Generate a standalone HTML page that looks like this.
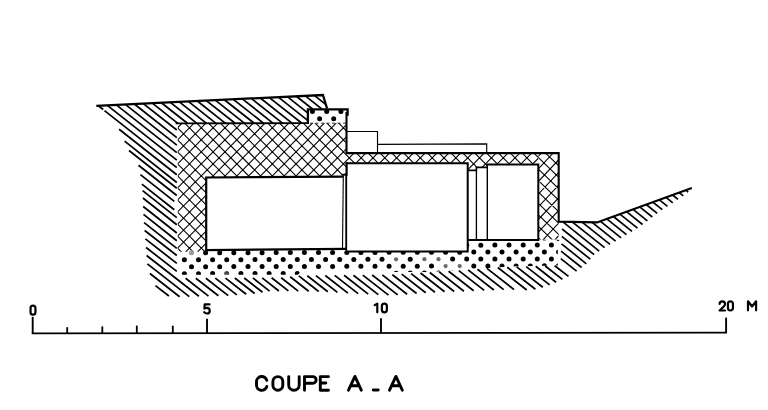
<!DOCTYPE html>
<html><head><meta charset="utf-8"><title>Coupe A-A</title>
<style>html,body{margin:0;padding:0;background:#fff;}body{width:768px;height:410px;overflow:hidden;font-family:"Liberation Sans",sans-serif;}svg{display:block;}</style>
</head><body>
<svg width="768" height="410" viewBox="0 0 768 410">
<defs>
<clipPath id="cc"><polygon points="177.8,123.3 346.5,123.3 346.5,153.0 538.3,153.0 538.3,164.5 538.2,164.3 487.2,164.3 487.2,167.4 476.4,167.4 476.4,170.4 467.8,170.4 467.8,163.3 346.5,163.3 346.5,175.8 206.1,177.2 206.1,251.8 177.8,251.8"/></clipPath>
<clipPath id="ccr"><polygon points="538.3,153.0 558.7,153.0 558.7,239.6 538.3,239.6"/></clipPath>
<clipPath id="cd"><polygon points="180.0,250.0 206.1,249.5 344.5,249.5 344.5,251.2 467.6,251.2 467.6,239.8 557.8,239.8 557.8,265.5 510.0,266.5 470.0,269.5 430.0,272.0 392.0,272.0 388.0,270.4 302.0,270.4 298.0,274.8 180.0,274.8"/></clipPath>
</defs>
<rect width="768" height="410" fill="#fff"/>
<path d="M98.3 105.7L103.2 109.5M104.5 110.6L176.8 167.7M107.3 105.3L176.8 160.2M116.3 104.8L176.8 152.6M125.3 104.4L176.8 145.1M134.3 104.0L176.8 137.6M143.3 103.6L176.8 130.0M152.3 103.1L177.8 123.3M161.3 102.7L187.4 123.3M170.3 102.3L196.9 123.3M179.3 101.8L206.5 123.3M188.3 101.4L216.0 123.3M197.3 101.0L225.5 123.3M206.3 100.6L235.1 123.3M215.3 100.1L244.6 123.3M224.3 99.7L254.2 123.3M233.3 99.3L263.7 123.3M242.3 98.8L273.2 123.3M251.3 98.4L282.8 123.3M260.3 98.0L292.3 123.3M269.3 97.6L301.9 123.3M278.3 97.1L308.0 120.6M287.3 96.7L308.0 113.1M296.3 96.3L312.8 109.3M305.3 95.8L322.3 109.3M314.3 95.4L325.3 104.1M119.1 129.3L176.8 174.8M124.6 141.2L176.8 182.5" stroke="#000" stroke-width="1.72" fill="none"/>
<path d="M129.0 150.5L176.8 188.2M138.5 165.3L176.8 195.5M140.4 174.6L174.3 201.4M141.9 184.1L174.3 209.7M142.6 190.6L176.8 217.6M142.9 198.0L176.8 224.8M143.2 206.5L176.8 233.0M143.5 214.4L176.8 240.7M144.1 222.6L176.8 248.4M146.1 247.5L176.8 271.4M185.6 278.3L208.5 296.1M145.4 238.9L176.8 263.4M195.8 278.2L218.4 295.8M144.7 230.5L176.8 255.5M205.9 278.2L228.2 295.6M215.3 278.1L236.8 294.9M225.5 278.1L246.2 294.2M234.8 278.0L254.7 293.5M244.2 278.0L262.5 292.3M252.8 277.9L269.6 291.1M262.2 277.9L278.9 291.0M271.6 277.8L288.4 290.9M281.2 277.8L298.2 291.1M290.2 276.8L308.7 291.3M298.8 275.9L318.7 291.5M307.3 275.7L327.8 291.7M315.9 275.6L337.4 292.4M325.3 275.5L347.9 293.1M334.7 275.4L358.1 293.6M344.1 275.3L368.2 294.1M353.4 275.2L378.3 294.6M362.8 275.1L388.5 295.1M372.2 275.0L397.7 294.9M382.3 274.9L407.1 294.2M392.4 274.7L416.6 293.5M401.7 274.1L425.7 292.8M411.1 273.6L434.9 292.2M420.5 273.0L444.6 291.8M429.8 272.5L454.2 291.5M439.2 271.9L463.9 291.2M448.6 271.2L473.7 290.8M458.8 270.6L484.2 290.4M468.1 269.9L493.8 290.0M477.5 269.2L503.7 289.6M486.9 268.4L514.1 289.6M497.8 267.5L526.7 290.0M507.2 267.2L535.4 289.2M516.7 266.9L542.8 287.3M526.2 266.6L549.7 284.9M535.7 266.3L556.1 282.2M545.2 266.0L562.4 279.4M554.7 265.7L568.5 276.4M146.6 255.5L198.9 296.3M147.4 263.9L189.3 296.6M149.9 273.5L179.6 296.7M155.4 285.6L168.9 296.0" stroke="#000" stroke-width="1.75" fill="none"/>
<path d="M685.7 190.2L688.2 192.2M679.1 192.6L683.3 195.9M672.6 195.0L678.0 199.4M666.0 197.4L672.8 202.8M659.4 199.8L667.5 206.3M652.8 202.1L662.3 209.7M646.2 204.5L657.2 213.3M639.7 206.9L652.3 217.0M633.1 209.3L647.4 220.8M626.5 211.7L642.5 224.5M619.9 214.1L637.5 228.1M613.4 216.5L632.0 231.4M606.8 218.9L626.5 234.7M600.2 221.2L621.1 237.9M592.1 222.4L615.6 241.2M582.4 222.3L610.0 244.4M572.8 222.3L604.6 247.7M563.2 222.2L599.2 251.1M562.1 229.0L594.1 254.6M561.8 236.4L590.3 259.2M561.5 243.8L586.4 263.8M561.1 251.2L581.6 267.5M560.8 258.6L576.6 271.2" stroke="#000" stroke-width="1.7" fill="none"/>
<g clip-path="url(#cc)"><path d="M170 -577.6L565 -176.3M170 -538.1L565 -939.5M170 -565.6L565 -164.3M170 -526.1L565 -927.4M170 -553.6L565 -152.3M170 -514.1L565 -915.4M170 -541.6L565 -140.2M170 -502.1L565 -903.4M170 -529.5L565 -128.2M170 -490.0L565 -891.3M170 -517.5L565 -116.2M170 -478.0L565 -879.3M170 -505.5L565 -104.2M170 -466.0L565 -867.3M170 -493.4L565 -92.1M170 -453.9L565 -855.3M170 -481.4L565 -80.1M170 -441.9L565 -843.2M170 -469.4L565 -68.1M170 -429.9L565 -831.2M170 -457.4L565 -56.0M170 -417.9L565 -819.2M170 -445.3L565 -44.0M170 -405.8L565 -807.1M170 -433.3L565 -32.0M170 -393.8L565 -795.1M170 -421.3L565 -19.9M170 -381.8L565 -783.1M170 -409.2L565 -7.9M170 -369.7L565 -771.0M170 -397.2L565 4.1M170 -357.7L565 -759.0M170 -385.2L565 16.1M170 -345.7L565 -747.0M170 -373.1L565 28.2M170 -333.6L565 -735.0M170 -361.1L565 40.2M170 -321.6L565 -722.9M170 -349.1L565 52.2M170 -309.6L565 -710.9M170 -337.0L565 64.3M170 -297.5L565 -698.9M170 -325.0L565 76.3M170 -285.5L565 -686.8M170 -313.0L565 88.3M170 -273.5L565 -674.8M170 -301.0L565 100.4M170 -261.5L565 -662.8M170 -288.9L565 112.4M170 -249.4L565 -650.8M170 -276.9L565 124.4M170 -237.4L565 -638.7M170 -264.9L565 136.4M170 -225.4L565 -626.7M170 -252.8L565 148.5M170 -213.3L565 -614.7M170 -240.8L565 160.5M170 -201.3L565 -602.6M170 -228.8L565 172.5M170 -189.3L565 -590.6M170 -216.7L565 184.6M170 -177.2L565 -578.6M170 -204.7L565 196.6M170 -165.2L565 -566.5M170 -192.7L565 208.6M170 -153.2L565 -554.5M170 -180.7L565 220.7M170 -141.2L565 -542.5M170 -168.6L565 232.7M170 -129.1L565 -530.4M170 -156.6L565 244.7M170 -117.1L565 -518.4M170 -144.6L565 256.8M170 -105.1L565 -506.4M170 -132.5L565 268.8M170 -93.0L565 -494.4M170 -120.5L565 280.8M170 -81.0L565 -482.3M170 -108.5L565 292.8M170 -69.0L565 -470.3M170 -96.5L565 304.9M170 -56.9L565 -458.3M170 -84.4L565 316.9M170 -44.9L565 -446.2M170 -72.4L565 328.9M170 -32.9L565 -434.2M170 -60.4L565 341.0M170 -20.9L565 -422.2M170 -48.3L565 353.0M170 -8.8L565 -410.1M170 -36.3L565 365.0M170 3.2L565 -398.1M170 -24.3L565 377.0M170 15.2L565 -386.1M170 -12.2L565 389.1M170 27.3L565 -374.1M170 -0.2L565 401.1M170 39.3L565 -362.0M170 11.8L565 413.1M170 51.3L565 -350.0M170 23.8L565 425.2M170 63.3L565 -338.0M170 35.9L565 437.2M170 75.4L565 -325.9M170 47.9L565 449.2M170 87.4L565 -313.9M170 59.9L565 461.3M170 99.4L565 -301.9M170 72.0L565 473.3M170 111.5L565 -289.8M170 84.0L565 485.3M170 123.5L565 -277.8M170 96.0L565 497.3M170 135.5L565 -265.8M170 108.1L565 509.4M170 147.6L565 -253.8M170 120.1L565 521.4M170 159.6L565 -241.7M170 132.1L565 533.4M170 171.6L565 -229.7M170 144.2L565 545.5M170 183.7L565 -217.7M170 156.2L565 557.5M170 195.7L565 -205.6M170 168.2L565 569.5M170 207.7L565 -193.6M170 180.2L565 581.6M170 219.7L565 -181.6M170 192.3L565 593.6M170 231.8L565 -169.5M170 204.3L565 605.6M170 243.8L565 -157.5M170 216.3L565 617.6M170 255.8L565 -145.5M170 228.4L565 629.7M170 267.9L565 -133.5M170 240.4L565 641.7M170 279.9L565 -121.4M170 252.4L565 653.7M170 291.9L565 -109.4M170 264.4L565 665.8M170 304.0L565 -97.4M170 276.5L565 677.8M170 316.0L565 -85.3M170 288.5L565 689.8M170 328.0L565 -73.3M170 300.5L565 701.9M170 340.0L565 -61.3M170 312.6L565 713.9M170 352.1L565 -49.2M170 324.6L565 725.9M170 364.1L565 -37.2M170 336.6L565 737.9M170 376.1L565 -25.2M170 348.7L565 750.0M170 388.2L565 -13.2M170 360.7L565 762.0M170 400.2L565 -1.1M170 372.7L565 774.0M170 412.2L565 10.9M170 384.8L565 786.1M170 424.2L565 22.9M170 396.8L565 798.1M170 436.3L565 35.0M170 408.8L565 810.1M170 448.3L565 47.0M170 420.8L565 822.2M170 460.3L565 59.0M170 432.9L565 834.2M170 472.4L565 71.0M170 444.9L565 846.2M170 484.4L565 83.1M170 456.9L565 858.2M170 496.4L565 95.1M170 469.0L565 870.3M170 508.5L565 107.1M170 481.0L565 882.3M170 520.5L565 119.2M170 493.0L565 894.3M170 532.5L565 131.2M170 505.0L565 906.4M170 544.5L565 143.2M170 517.1L565 918.4M170 556.6L565 155.3M170 529.1L565 930.4M170 568.6L565 167.3M170 541.1L565 942.5M170 580.6L565 179.3M170 553.2L565 954.5M170 592.7L565 191.4M170 565.2L565 966.5M170 604.7L565 203.4M170 577.2L565 978.5M170 616.7L565 215.4M170 589.3L565 990.6M170 628.8L565 227.4M170 601.3L565 1002.6M170 640.8L565 239.5M170 613.3L565 1014.6M170 652.8L565 251.5M170 625.4L565 1026.7M170 664.8L565 263.5M170 637.4L565 1038.7M170 676.9L565 275.6M170 649.4L565 1050.7M170 688.9L565 287.6M170 661.4L565 1062.8M170 700.9L565 299.6M170 673.5L565 1074.8M170 713.0L565 311.6M170 685.5L565 1086.8M170 725.0L565 323.7M170 697.5L565 1098.8M170 737.0L565 335.7M170 709.6L565 1110.9M170 749.1L565 347.7M170 721.6L565 1122.9M170 761.1L565 359.8M170 733.6L565 1134.9M170 773.1L565 371.8M170 745.6L565 1147.0M170 785.1L565 383.8M170 757.7L565 1159.0M170 797.2L565 395.9M170 769.7L565 1171.0M170 809.2L565 407.9M170 781.7L565 1183.1M170 821.2L565 419.9M170 793.8L565 1195.1M170 833.3L565 432.0M170 805.8L565 1207.1M170 845.3L565 444.0M170 817.8L565 1219.1M170 857.3L565 456.0M170 829.9L565 1231.2M170 869.4L565 468.0M170 841.9L565 1243.2M170 881.4L565 480.1M170 853.9L565 1255.2M170 893.4L565 492.1" stroke="#000" stroke-width="1.08" fill="none"/></g>
<g clip-path="url(#ccr)"><path d="M530 12.1L565 46.0M530 38.4L565 1.0M530 23.6L565 57.4M530 51.1L565 13.6M530 35.0L565 68.9M530 63.7L565 26.3M530 46.5L565 80.3M530 76.4L565 39.0M530 57.9L565 91.8M530 89.1L565 51.6M530 69.4L565 103.2M530 101.7L565 64.3M530 80.8L565 114.7M530 114.4L565 77.0M530 92.3L565 126.1M530 127.1L565 89.6M530 103.7L565 137.6M530 139.8L565 102.3M530 115.2L565 149.0M530 152.4L565 115.0M530 126.6L565 160.5M530 165.1L565 127.6M530 138.1L565 171.9M530 177.8L565 140.3M530 149.5L565 183.4M530 190.4L565 153.0M530 161.0L565 194.8M530 203.1L565 165.6M530 172.4L565 206.3M530 215.8L565 178.3M530 183.9L565 217.7M530 228.4L565 191.0M530 195.3L565 229.2M530 241.1L565 203.7M530 206.8L565 240.6M530 253.8L565 216.3M530 218.2L565 252.1M530 266.4L565 229.0M530 229.7L565 263.5M530 279.1L565 241.7M530 241.1L565 275.0M530 291.8L565 254.3M530 252.6L565 286.4M530 304.4L565 267.0M530 264.0L565 297.9M530 317.1L565 279.7M530 275.5L565 309.3M530 329.8L565 292.3" stroke="#000" stroke-width="1.08" fill="none"/></g>
<g clip-path="url(#cd)" fill="#000"><circle cx="163.3" cy="239.0" r="2.5"/><circle cx="177.4" cy="239.0" r="2.5"/><circle cx="191.5" cy="238.9" r="2.5"/><circle cx="205.6" cy="238.9" r="2.5"/><circle cx="219.7" cy="238.9" r="2.5"/><circle cx="233.8" cy="238.8" r="2.5"/><circle cx="248.0" cy="238.8" r="2.5"/><circle cx="262.1" cy="238.8" r="2.5"/><circle cx="276.2" cy="238.7" r="2.5"/><circle cx="290.3" cy="238.7" r="2.5"/><circle cx="304.4" cy="238.6" r="2.5"/><circle cx="318.5" cy="238.6" r="2.5"/><circle cx="332.6" cy="238.6" r="2.5"/><circle cx="346.8" cy="238.5" r="2.5"/><circle cx="360.9" cy="238.5" r="2.5"/><circle cx="375.0" cy="238.5" r="2.5"/><circle cx="389.1" cy="238.4" r="2.5"/><circle cx="403.2" cy="238.4" r="2.5"/><circle cx="417.3" cy="238.4" r="2.5"/><circle cx="431.5" cy="238.3" r="2.5"/><circle cx="445.6" cy="238.3" r="2.5"/><circle cx="459.7" cy="238.3" r="2.5"/><circle cx="473.8" cy="238.2" r="2.5"/><circle cx="487.9" cy="238.2" r="2.5"/><circle cx="502.0" cy="238.2" r="2.5"/><circle cx="516.1" cy="238.1" r="2.5"/><circle cx="530.3" cy="238.1" r="2.5"/><circle cx="544.4" cy="238.0" r="2.5"/><circle cx="558.5" cy="238.0" r="2.5"/><circle cx="572.6" cy="238.0" r="2.5"/><circle cx="586.7" cy="237.9" r="2.5"/><circle cx="600.8" cy="237.9" r="2.5"/><circle cx="615.0" cy="237.9" r="2.5"/><circle cx="629.1" cy="237.8" r="2.5"/><circle cx="156.2" cy="246.0" r="2.5"/><circle cx="170.3" cy="245.9" r="2.5"/><circle cx="184.4" cy="245.9" r="2.5"/><circle cx="198.5" cy="245.9" r="2.5"/><circle cx="212.6" cy="245.8" r="2.5"/><circle cx="226.7" cy="245.8" r="2.5"/><circle cx="240.9" cy="245.8" r="2.5"/><circle cx="255.0" cy="245.7" r="2.5"/><circle cx="269.1" cy="245.7" r="2.5"/><circle cx="283.2" cy="245.7" r="2.5"/><circle cx="297.3" cy="245.6" r="2.5"/><circle cx="311.4" cy="245.6" r="2.5"/><circle cx="325.6" cy="245.5" r="2.5"/><circle cx="339.7" cy="245.5" r="2.5"/><circle cx="353.8" cy="245.5" r="2.5"/><circle cx="367.9" cy="245.4" r="2.5"/><circle cx="382.0" cy="245.4" r="2.5"/><circle cx="396.1" cy="245.4" r="2.5"/><circle cx="410.2" cy="245.3" r="2.5"/><circle cx="424.4" cy="245.3" r="2.5"/><circle cx="438.5" cy="245.3" r="2.5"/><circle cx="452.6" cy="245.2" r="2.5"/><circle cx="466.7" cy="245.2" r="2.5"/><circle cx="480.8" cy="245.2" r="2.5"/><circle cx="494.9" cy="245.1" r="2.5"/><circle cx="509.0" cy="245.1" r="2.5"/><circle cx="523.2" cy="245.1" r="2.5"/><circle cx="537.3" cy="245.0" r="2.5"/><circle cx="551.4" cy="245.0" r="2.5"/><circle cx="565.5" cy="244.9" r="2.5"/><circle cx="579.6" cy="244.9" r="2.5"/><circle cx="593.7" cy="244.9" r="2.5"/><circle cx="607.9" cy="244.8" r="2.5"/><circle cx="622.0" cy="244.8" r="2.5"/><circle cx="163.3" cy="252.9" r="2.5"/><circle cx="177.4" cy="252.9" r="2.5"/><circle cx="191.5" cy="252.8" r="2.5" fill="#999"/><circle cx="205.6" cy="252.8" r="2.5"/><circle cx="219.7" cy="252.8" r="2.5"/><circle cx="233.8" cy="252.7" r="2.5"/><circle cx="248.0" cy="252.7" r="2.5"/><circle cx="262.1" cy="252.7" r="2.5"/><circle cx="276.2" cy="252.6" r="2.5"/><circle cx="290.3" cy="252.6" r="2.5"/><circle cx="304.4" cy="252.5" r="2.5"/><circle cx="318.5" cy="252.5" r="2.5"/><circle cx="332.6" cy="252.5" r="2.5"/><circle cx="346.8" cy="252.4" r="2.5"/><circle cx="360.9" cy="252.4" r="2.5"/><circle cx="375.0" cy="252.4" r="2.5"/><circle cx="389.1" cy="252.3" r="2.5"/><circle cx="403.2" cy="252.3" r="2.5"/><circle cx="417.3" cy="252.3" r="2.5"/><circle cx="431.5" cy="252.2" r="2.5"/><circle cx="445.6" cy="252.2" r="2.5"/><circle cx="459.7" cy="252.2" r="2.5"/><circle cx="473.8" cy="252.1" r="2.5"/><circle cx="487.9" cy="252.1" r="2.5"/><circle cx="502.0" cy="252.1" r="2.5"/><circle cx="516.1" cy="252.0" r="2.5"/><circle cx="530.3" cy="252.0" r="2.5"/><circle cx="544.4" cy="251.9" r="2.5"/><circle cx="558.5" cy="251.9" r="2.5"/><circle cx="572.6" cy="251.9" r="2.5"/><circle cx="586.7" cy="251.8" r="2.5"/><circle cx="600.8" cy="251.8" r="2.5"/><circle cx="615.0" cy="251.8" r="2.5"/><circle cx="629.1" cy="251.7" r="2.5"/><circle cx="156.2" cy="259.9" r="2.5"/><circle cx="170.3" cy="259.8" r="2.5"/><circle cx="184.4" cy="259.8" r="2.5"/><circle cx="198.5" cy="259.8" r="2.5"/><circle cx="212.6" cy="259.7" r="2.5"/><circle cx="226.7" cy="259.7" r="2.5"/><circle cx="240.9" cy="259.7" r="2.5"/><circle cx="255.0" cy="259.6" r="2.5"/><circle cx="269.1" cy="259.6" r="2.5"/><circle cx="283.2" cy="259.6" r="2.5"/><circle cx="297.3" cy="259.5" r="2.5"/><circle cx="311.4" cy="259.5" r="2.5"/><circle cx="325.6" cy="259.4" r="2.5"/><circle cx="339.7" cy="259.4" r="2.5"/><circle cx="353.8" cy="259.4" r="2.5"/><circle cx="367.9" cy="259.3" r="2.5"/><circle cx="382.0" cy="259.3" r="2.5"/><circle cx="396.1" cy="259.3" r="2.1" fill="#6a6a6a"/><circle cx="410.2" cy="259.2" r="2.5"/><circle cx="424.4" cy="259.2" r="2.1" fill="#6a6a6a"/><circle cx="438.5" cy="259.2" r="2.1" fill="#6a6a6a"/><circle cx="452.6" cy="259.1" r="2.5"/><circle cx="466.7" cy="259.1" r="2.5"/><circle cx="480.8" cy="259.1" r="2.5"/><circle cx="494.9" cy="259.0" r="2.5"/><circle cx="509.0" cy="259.0" r="2.5"/><circle cx="523.2" cy="259.0" r="2.5"/><circle cx="537.3" cy="258.9" r="2.5"/><circle cx="551.4" cy="258.9" r="2.5"/><circle cx="565.5" cy="258.8" r="2.5"/><circle cx="579.6" cy="258.8" r="2.5"/><circle cx="593.7" cy="258.8" r="2.5"/><circle cx="607.9" cy="258.7" r="2.5"/><circle cx="622.0" cy="258.7" r="2.5"/><circle cx="163.3" cy="266.8" r="2.5"/><circle cx="177.4" cy="266.8" r="2.5"/><circle cx="191.5" cy="266.7" r="2.5"/><circle cx="205.6" cy="266.7" r="2.5"/><circle cx="219.7" cy="266.7" r="2.5"/><circle cx="233.8" cy="266.6" r="2.5"/><circle cx="248.0" cy="266.6" r="2.5"/><circle cx="262.1" cy="266.6" r="2.5"/><circle cx="276.2" cy="266.5" r="2.5"/><circle cx="290.3" cy="266.5" r="2.5"/><circle cx="304.4" cy="266.4" r="2.5"/><circle cx="318.5" cy="266.4" r="2.5"/><circle cx="332.6" cy="266.4" r="2.5"/><circle cx="346.8" cy="266.3" r="2.5"/><circle cx="360.9" cy="266.3" r="2.5"/><circle cx="375.0" cy="266.3" r="2.5"/><circle cx="389.1" cy="266.2" r="2.5"/><circle cx="403.2" cy="266.2" r="2.5"/><circle cx="417.3" cy="266.2" r="2.5"/><circle cx="431.5" cy="266.1" r="2.5"/><circle cx="445.6" cy="266.1" r="2.1" fill="#6a6a6a"/><circle cx="459.7" cy="266.1" r="2.1" fill="#6a6a6a"/><circle cx="473.8" cy="266.0" r="2.5"/><circle cx="487.9" cy="266.0" r="2.5"/><circle cx="502.0" cy="266.0" r="2.5"/><circle cx="516.1" cy="265.9" r="2.5"/><circle cx="530.3" cy="265.9" r="2.5"/><circle cx="544.4" cy="265.8" r="2.5"/><circle cx="558.5" cy="265.8" r="2.5"/><circle cx="572.6" cy="265.8" r="2.5"/><circle cx="586.7" cy="265.7" r="2.5"/><circle cx="600.8" cy="265.7" r="2.5"/><circle cx="615.0" cy="265.7" r="2.5"/><circle cx="629.1" cy="265.6" r="2.5"/><circle cx="156.2" cy="273.8" r="2.5"/><circle cx="170.3" cy="273.7" r="2.5"/><circle cx="184.4" cy="273.7" r="2.5"/><circle cx="198.5" cy="273.7" r="2.5"/><circle cx="212.6" cy="273.6" r="2.5"/><circle cx="226.7" cy="273.6" r="2.5" fill="#444"/><circle cx="240.9" cy="273.6" r="2.5"/><circle cx="255.0" cy="273.5" r="2.5"/><circle cx="269.1" cy="273.5" r="2.5"/><circle cx="283.2" cy="273.5" r="2.5"/><circle cx="297.3" cy="273.4" r="2.5"/><circle cx="311.4" cy="273.4" r="2.5"/><circle cx="325.6" cy="273.3" r="2.5"/><circle cx="339.7" cy="273.3" r="2.5"/><circle cx="353.8" cy="273.3" r="2.5"/><circle cx="367.9" cy="273.2" r="2.5"/><circle cx="382.0" cy="273.2" r="2.5"/><circle cx="396.1" cy="273.2" r="2.5"/><circle cx="410.2" cy="273.1" r="2.5"/><circle cx="424.4" cy="273.1" r="2.5"/><circle cx="438.5" cy="273.1" r="2.5"/><circle cx="452.6" cy="273.0" r="2.5"/><circle cx="466.7" cy="273.0" r="2.5"/><circle cx="480.8" cy="273.0" r="2.5"/><circle cx="494.9" cy="272.9" r="2.5"/><circle cx="509.0" cy="272.9" r="2.5"/><circle cx="523.2" cy="272.9" r="2.5"/><circle cx="537.3" cy="272.8" r="2.5"/><circle cx="551.4" cy="272.8" r="2.5"/><circle cx="565.5" cy="272.7" r="2.5"/><circle cx="579.6" cy="272.7" r="2.5"/><circle cx="593.7" cy="272.7" r="2.5"/><circle cx="607.9" cy="272.6" r="2.5"/><circle cx="622.0" cy="272.6" r="2.5"/><circle cx="163.3" cy="280.7" r="2.5"/><circle cx="177.4" cy="280.7" r="2.5"/><circle cx="191.5" cy="280.6" r="2.5"/><circle cx="205.6" cy="280.6" r="2.5"/><circle cx="219.7" cy="280.6" r="2.5"/><circle cx="233.8" cy="280.5" r="2.5"/><circle cx="248.0" cy="280.5" r="2.5"/><circle cx="262.1" cy="280.5" r="2.5"/><circle cx="276.2" cy="280.4" r="2.5"/><circle cx="290.3" cy="280.4" r="2.5"/><circle cx="304.4" cy="280.3" r="2.5"/><circle cx="318.5" cy="280.3" r="2.5"/><circle cx="332.6" cy="280.3" r="2.5"/><circle cx="346.8" cy="280.2" r="2.5"/><circle cx="360.9" cy="280.2" r="2.5"/><circle cx="375.0" cy="280.2" r="2.5"/><circle cx="389.1" cy="280.1" r="2.5"/><circle cx="403.2" cy="280.1" r="2.5"/><circle cx="417.3" cy="280.1" r="2.5"/><circle cx="431.5" cy="280.0" r="2.5"/><circle cx="445.6" cy="280.0" r="2.5"/><circle cx="459.7" cy="280.0" r="2.5"/><circle cx="473.8" cy="279.9" r="2.5"/><circle cx="487.9" cy="279.9" r="2.5"/><circle cx="502.0" cy="279.9" r="2.5"/><circle cx="516.1" cy="279.8" r="2.5"/><circle cx="530.3" cy="279.8" r="2.5"/><circle cx="544.4" cy="279.7" r="2.5"/><circle cx="558.5" cy="279.7" r="2.5"/><circle cx="572.6" cy="279.7" r="2.5"/><circle cx="586.7" cy="279.6" r="2.5"/><circle cx="600.8" cy="279.6" r="2.5"/><circle cx="615.0" cy="279.6" r="2.5"/><circle cx="629.1" cy="279.5" r="2.5"/></g>
<g fill="#000"><circle cx="312.4" cy="111.6" r="2.5"/><circle cx="326.7" cy="111.6" r="2.5"/><circle cx="340.9" cy="111.6" r="2.5"/><circle cx="319.6" cy="118.8" r="2.5"/><circle cx="333.7" cy="118.8" r="2.5"/></g>
<path d="M556.8 240.4L559.2 240.4" stroke="#000" stroke-width="1.0" fill="none" stroke-linejoin="miter" stroke-linecap="butt" />
<path d="M96.3 105.8L322.9 95.0L327.1 108.5" stroke="#000" stroke-width="2.3" fill="none" stroke-linejoin="miter" stroke-linecap="butt" stroke-linecap="round"/>
<path d="M307.9 123.9L307.9 109.3L347.6 109.3L347.6 115.7" stroke="#000" stroke-width="2.3" fill="none" stroke-linejoin="miter" stroke-linecap="butt" />
<path d="M175.6 123.3L308.5 123.2" stroke="#000" stroke-width="1.8" fill="none" stroke-linejoin="miter" stroke-linecap="butt" />
<path d="M310.0 123.2L346.0 123.2" stroke="#000" stroke-width="0.8" fill="none" stroke-linejoin="miter" stroke-linecap="butt" stroke-dasharray="3 2.5"/>
<path d="M346.5 112.0L346.5 153.1L558.7 153.1L558.7 221.6L597.0 222.4L691.8 188.0" stroke="#000" stroke-width="2.1" fill="none" stroke-linejoin="miter" stroke-linecap="butt" stroke-linecap="round"/>
<path d="M346.1 251.5L467.7 251.5L467.7 163.3L345.5 163.3" stroke="#000" stroke-width="2.0" fill="none" stroke-linejoin="miter" stroke-linecap="butt" />
<path d="M346.6 162.4L346.6 175.8" stroke="#000" stroke-width="2.2" fill="none" stroke-linejoin="miter" stroke-linecap="butt" />
<path d="M341.7 174.6L346.6 174.6" stroke="#000" stroke-width="1.6" fill="none" stroke-linejoin="miter" stroke-linecap="butt" />
<path d="M346.2 175.0L346.2 252.4" stroke="#000" stroke-width="1.85" fill="none" stroke-linejoin="miter" stroke-linecap="butt" />
<path d="M343.2 176.6L206.2 177.5L206.2 250.1L346.6 248.8" stroke="#000" stroke-width="2.2" fill="none" stroke-linejoin="miter" stroke-linecap="butt" />
<path d="M343.3 176.0L342.5 249.4" stroke="#000" stroke-width="1.1" fill="none" stroke-linejoin="miter" stroke-linecap="butt" />
<path d="M467.7 170.4L476.4 170.4L476.4 167.4L487.2 167.4" stroke="#000" stroke-width="1.7" fill="none" stroke-linejoin="miter" stroke-linecap="butt" />
<path d="M487.3 239.7L487.3 164.5" stroke="#000" stroke-width="1.4" fill="none" stroke-linejoin="miter" stroke-linecap="butt" />
<path d="M486.7 164.5L538.3 164.5L538.3 240.0L467.7 240.0" stroke="#000" stroke-width="2.0" fill="none" stroke-linejoin="miter" stroke-linecap="butt" />
<path d="M476.4 170.4L476.4 239.7" stroke="#000" stroke-width="1.35" fill="none" stroke-linejoin="miter" stroke-linecap="butt" />
<path d="M346.4 131.5L377.5 131.5L377.5 153.0" stroke="#000" stroke-width="1.15" fill="none" stroke-linejoin="miter" stroke-linecap="butt" />
<path d="M377.5 144.4L486.7 143.9L486.7 153.0" stroke="#000" stroke-width="1.15" fill="none" stroke-linejoin="miter" stroke-linecap="butt" />
<path d="M32.7 316.8L32.7 333.5" stroke="#000" stroke-width="1.9" fill="none" stroke-linejoin="miter" stroke-linecap="butt" />
<path d="M726.1 332.9L726.1 317.6" stroke="#000" stroke-width="1.9" fill="none" stroke-linejoin="miter" stroke-linecap="butt" />
<path d="M31.8 333.4L727.0 332.6" stroke="#000" stroke-width="1.6" fill="none" stroke-linejoin="miter" stroke-linecap="butt" />
<path d="M67.2 327.2L67.2 333.3" stroke="#000" stroke-width="1.8" fill="none" stroke-linejoin="miter" stroke-linecap="butt" />
<path d="M102.3 326.4L102.3 333.3" stroke="#000" stroke-width="1.8" fill="none" stroke-linejoin="miter" stroke-linecap="butt" />
<path d="M136.8 325.6L136.8 333.3" stroke="#000" stroke-width="1.8" fill="none" stroke-linejoin="miter" stroke-linecap="butt" />
<path d="M172.8 325.7L172.8 333.3" stroke="#000" stroke-width="1.8" fill="none" stroke-linejoin="miter" stroke-linecap="butt" />
<path d="M207.0 318.7L207.0 333.2" stroke="#000" stroke-width="1.9" fill="none" stroke-linejoin="miter" stroke-linecap="butt" />
<path d="M381.0 318.2L381.0 333.0" stroke="#000" stroke-width="1.9" fill="none" stroke-linejoin="miter" stroke-linecap="butt" />
<path d="M30.55 308.05A2.45 2.45 0 0 1 35.45 308.05V312.15A2.45 2.45 0 0 1 30.55 312.15Z" stroke="#000" stroke-width="2.2" fill="none" stroke-linecap="round" stroke-linejoin="round"/>
<path d="M209.5 304.4H204.7L204.4 308.6Q205.6 307.8 206.9 307.8A2.85 2.85 0 0 1 206.9 313.5Q205.2 313.5 204.2 312.2" stroke="#000" stroke-width="2.2" fill="none" stroke-linecap="round" stroke-linejoin="round"/>
<path d="M374.7 305.1L377.3 303.6V312.3" stroke="#000" stroke-width="2.2" fill="none" stroke-linecap="round" stroke-linejoin="round"/>
<path d="M381.85 306.10A2.5 2.5 0 0 1 386.85 306.10V309.80A2.5 2.5 0 0 1 381.85 309.80Z" stroke="#000" stroke-width="2.2" fill="none" stroke-linecap="round" stroke-linejoin="round"/>
<path d="M719.6 304.0A2.72 2.72 0 0 1 725.05 304.0Q725.0 305.4 723.5 306.8L719.6 310.5H725.0" stroke="#000" stroke-width="2.2" fill="none" stroke-linecap="round" stroke-linejoin="round"/>
<path d="M727.95 303.80A2.5 2.5 0 0 1 732.95 303.80V308.00A2.5 2.5 0 0 1 727.95 308.00Z" stroke="#000" stroke-width="2.2" fill="none" stroke-linecap="round" stroke-linejoin="round"/>
<path d="M748.0 310.3V301.3L752.05 306.5L756.1 301.3V310.3" stroke="#000" stroke-width="2.2" fill="none" stroke-linecap="round" stroke-linejoin="round"/>
<path d="M266.8 380.3A5.25 5.25 0 0 0 256.5 381.85V384.95A5.25 5.25 0 0 0 266.8 386.5" stroke="#000" stroke-width="2.9" fill="none" stroke-linecap="round" stroke-linejoin="round"/>
<path d="M272.90 381.55A4.95 4.95 0 0 1 282.80 381.55V385.25A4.95 4.95 0 0 1 272.90 385.25Z" stroke="#000" stroke-width="2.9" fill="none" stroke-linecap="round" stroke-linejoin="round"/>
<path d="M288.7 376.6V384.95A5.25 5.25 0 0 0 299.2 384.95V376.6" stroke="#000" stroke-width="2.9" fill="none" stroke-linecap="round" stroke-linejoin="round"/>
<path d="M304.5 390.2V376.6H312.8A3.35 3.35 0 0 1 312.8 383.3H304.5" stroke="#000" stroke-width="2.9" fill="none" stroke-linecap="round" stroke-linejoin="round"/>
<path d="M328.5 376.6H320.3V390.2H328.5M320.3 383H325.8" stroke="#000" stroke-width="2.9" fill="none" stroke-linecap="round" stroke-linejoin="round"/>
<path d="M348.5 390.2L354.9 376.40000000000003L361.3 390.2M350.8 385.7H359.0" stroke="#000" stroke-width="2.9" fill="none" stroke-linecap="round" stroke-linejoin="round"/>
<path d="M389.5 390.2L395.9 376.40000000000003L402.3 390.2M391.8 385.7H400.0" stroke="#000" stroke-width="2.9" fill="none" stroke-linecap="round" stroke-linejoin="round"/>
<path d="M373.2 390H378.2" stroke="#000" stroke-width="2.9" fill="none" stroke-linecap="round" stroke-linejoin="round"/>
</svg>
</body></html>
